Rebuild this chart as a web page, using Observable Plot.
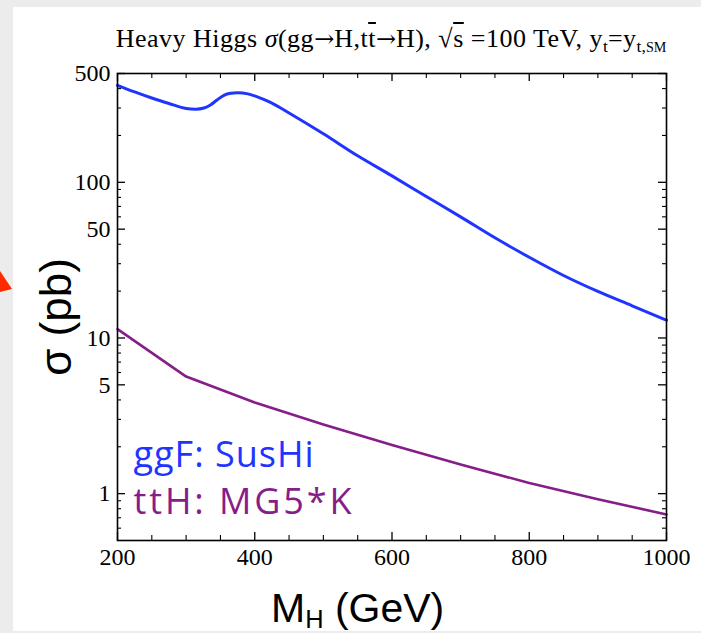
<!DOCTYPE html>
<html>
<head>
<meta charset="utf-8">
<script src="https://cdn.jsdelivr.net/npm/d3@7"></script>
<script src="https://cdn.jsdelivr.net/npm/@observablehq/plot@0.6"></script>
<style>
  html, body { margin:0; padding:0; width:701px; height:633px; overflow:hidden; background:#ececec; }
  #panel { position:absolute; left:13px; top:7px; width:688px; height:624px; background:#fff; }
  #chart { position:absolute; left:0; top:0; }
  #title { position:absolute; left:391px; top:26px; transform:translateX(-50%); white-space:nowrap;
           font-family:"Liberation Serif", serif; font-size:26px; letter-spacing:0.5px; line-height:1; color:#000; }
  #title .ar { font-family:"DejaVu Serif", serif; font-size:0.92em; letter-spacing:0; }
  .sb { position:relative; top:0.28em; font-size:0.68em; letter-spacing:0; }
  .sc { font-size:0.8em; }
  .ov { text-decoration:overline; }
  #ylab { position:absolute; left:56px; top:317px; transform:translate(-50%,-50%) rotate(-90deg);
          font-family:"Liberation Sans", Arial, sans-serif; font-size:44px; line-height:1; white-space:nowrap; color:#000; }
  #xlab { position:absolute; left:271px; top:588px; font-family:"Liberation Sans", Arial, sans-serif;
          font-size:41px; line-height:1; white-space:nowrap; color:#000; }
  #xlab .h { position:relative; top:0.22em; font-size:0.62em; }
  #arrow { position:absolute; left:0; top:268px; }
</style>
</head>
<body>
<div id="panel"></div>
<svg id="arrow" width="14" height="30"><polygon points="0,3 12,21 0,24" fill="#ff2a00"/></svg>
<div id="chart"></div>
<div id="title">Heavy Higgs <i>σ</i>(gg<span class="ar">→</span>H,t<span class="ov">t</span><span class="ar">→</span>H), √<span class="ov">s</span> =100 TeV, y<span class="sb">t</span>=y<span class="sb">t,<span class="sc">SM</span></span></div>
<div id="ylab">σ (pb)</div>
<div id="xlab">M<span class="h">H</span> (GeV)</div>
<script>
// ggF (SusHi) cross section, pb
const ggfMass = [200,225,250,275,300,314,326,336,345,355,365,375,390,400,413,425,450,500,550,600,650,700,750,800,850,900,950,1000];
const ggfXsec = [420,381,348,321,298,295,300,315,338,362,373,376,370,359,341,323,279,205,148,110,81,60,44,33,25.2,19.9,16.1,13.0];
// ttH (MG5*K) cross section, pb
const tthMass = [200,300,400,500,600,700,800,900,1000];
const tthXsec = [11.4,5.65,3.85,2.78,2.05,1.54,1.17,0.92,0.735];
// ticks
const xMajor = [200,400,600,800,1000];
const xMinor = [250,300,350,450,500,550,650,700,750,850,900,950];
const yMajor = [1,5,10,50,100,500];
const yMinor = [0.6,0.7,0.8,0.9,2,3,4,6,7,8,9,20,30,40,60,70,80,90,200,300,400];
const legendLabels = ["ggF: SusHi","ttH: MG5*K"];

const ggf = ggfMass.map((m,i)=>({m, v:ggfXsec[i]}));
const tth = tthMass.map((m,i)=>({m, v:tthXsec[i]}));

const W = 701, H = 633, mL = 117, mR = 35, mT = 73, mB = 93;
const FW = W - mL - mR, FH = H - mT - mB;
const blue = "#1f35ff", purple = "#861d88";
const serif = "'Liberation Serif', 'Times New Roman', serif";

const svg = Plot.plot({
  width: W, height: H, marginLeft: mL, marginRight: mR, marginTop: mT, marginBottom: mB,
  x: {domain: [200, 1000], axis: null},
  y: {type: "log", domain: [0.5, 500], axis: null},
  style: {background: "transparent", fontFamily: serif, fontSize: "24px", color: "#000", overflow: "visible"},
  marks: [
    Plot.line(ggf, {x: "m", y: "v", stroke: blue, strokeWidth: 3, curve: "monotone-x"}),
    Plot.line(tth, {x: "m", y: "v", stroke: purple, strokeWidth: 2.6}),
    // inward frame ticks
    Plot.tickY(yMajor, {y: d => d, insetRight: FW - 8, stroke: "#000", strokeWidth: 1.3}),
    Plot.tickY(yMajor, {y: d => d, insetLeft: FW - 8, stroke: "#000", strokeWidth: 1.3}),
    Plot.tickY(yMinor, {y: d => d, insetRight: FW - 4, stroke: "#000", strokeWidth: 1.1}),
    Plot.tickY(yMinor, {y: d => d, insetLeft: FW - 4, stroke: "#000", strokeWidth: 1.1}),
    Plot.tickX(xMajor, {x: d => d, insetTop: FH - 8, stroke: "#000", strokeWidth: 1.3}),
    Plot.tickX(xMajor, {x: d => d, insetBottom: FH - 8, stroke: "#000", strokeWidth: 1.3}),
    Plot.tickX(xMinor, {x: d => d, insetTop: FH - 5, stroke: "#000", strokeWidth: 1.1}),
    Plot.tickX(xMinor, {x: d => d, insetBottom: FH - 5, stroke: "#000", strokeWidth: 1.1}),
    Plot.frame({stroke: "#000", strokeWidth: 1.6}),
    // tick labels
    Plot.text(xMajor, {x: d => d, frameAnchor: "bottom", text: d => String(d), dy: 7, lineAnchor: "top",
      fill: "#000", fontSize: 24, fontFamily: serif}),
    Plot.text(yMajor, {y: d => d, frameAnchor: "left", text: d => String(d), dx: -7, textAnchor: "end", lineAnchor: "middle",
      fill: "#000", fontSize: 24, fontFamily: serif}),
    // legend
    Plot.text([legendLabels[0]], {frameAnchor: "bottom-left", dx: 16, dy: -84.8, textAnchor: "start", lineAnchor: "middle",
      fill: blue, fontSize: 36, fontFamily: "'Open Sans', Lato, sans-serif"}),
    Plot.text([legendLabels[1]], {frameAnchor: "bottom-left", dx: 16, dy: -38.5, textAnchor: "start", lineAnchor: "middle",
      fill: purple, fontSize: 36, fontFamily: "'Open Sans', Lato, sans-serif"})
  ]
});
document.getElementById("chart").appendChild(svg);
// stretch legend text to the reference widths
d3.select(svg).selectAll("text").each(function() {
  const t = this.textContent;
  if (t === legendLabels[0]) d3.select(this).attr("textLength", 180).attr("lengthAdjust", "spacing");
  if (t === legendLabels[1]) d3.select(this).attr("textLength", 218).attr("lengthAdjust", "spacing");
});
</script>
</body>
</html>
